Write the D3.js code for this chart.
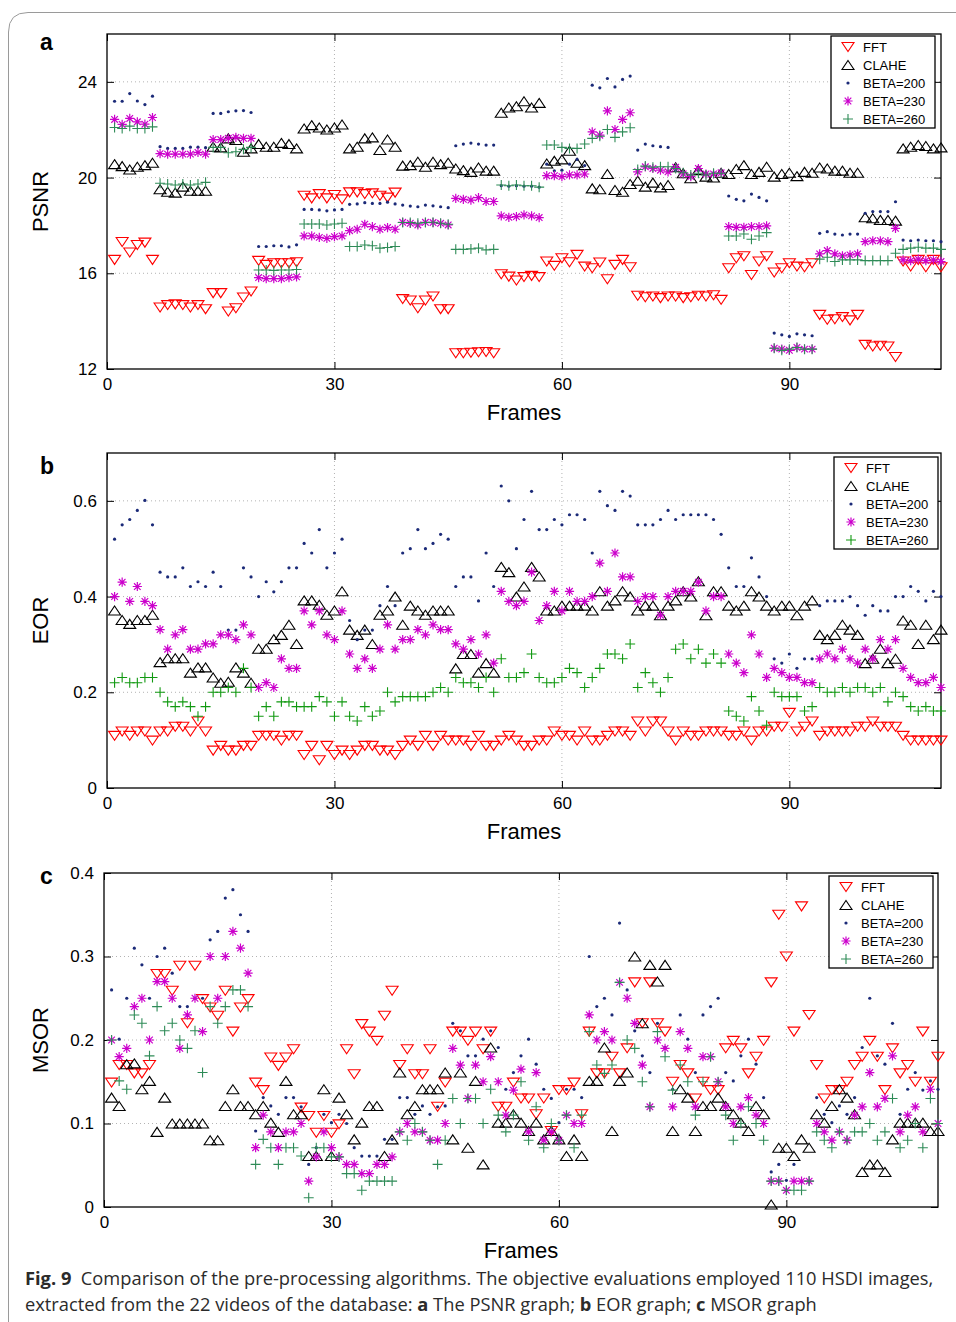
<!DOCTYPE html>
<html>
<head>
<meta charset="utf-8">
<script src="https://cdn.jsdelivr.net/npm/d3@7"></script>
<style>
body { margin: 0; background: #fff; }
text { font-family: "Liberation Sans", Arial, sans-serif; }
</style>
</head>
<body>
<script>
// frames 1..110
var frames = d3.range(1, 111);
var seriesNames = ["FFT", "CLAHE", "BETA=200", "BETA=230", "BETA=260"];
var xTicks = [0, 30, 60, 90];

// (a) PSNR
var psnrTicks = [12, 16, 20, 24];
var psnrFFT = [16.56,17.31,16.87,17.18,17.28,16.56, 14.57,14.67,14.70,14.67,14.57,14.67,14.50, 15.17,15.17,14.40,14.54,14.99,15.24, 16.52,16.35,16.42,16.42,16.42,16.46, 19.24,19.13,19.31,19.13,19.27,19.09, 19.38,19.38,19.31,19.34,19.24,19.16,19.37, 14.92,14.86,14.54,14.86,15.03,14.50,14.50, 12.66,12.66,12.68,12.70,12.71,12.66, 15.96,15.86,15.70,15.84,15.89,15.84, 16.49,16.31,16.63,16.46,16.77,16.28,16.21,16.45,15.75,16.35,16.56,16.25, 15.06,15.00,15.03,14.96,15.03,15.03,14.96,15.00,15.06,15.03,15.08,14.89, 16.21,16.63,16.71,15.93,16.49,16.71, 16.03,16.21,16.42,16.28,16.25,16.42, 14.26,14.06,14.08,14.17,14.03,14.26, 13.01,12.94,12.97,12.94,12.50, 16.49,16.28,16.56,16.25,16.56,16.25];
var psnrCLAHE = [20.56,20.48,20.34,20.45,20.52,20.62, 19.51,19.41,19.37,19.62,19.45,19.45,19.45, 21.29,21.26,21.64,21.57,21.08,21.22, 21.40,21.29,21.29,21.45,21.40,21.22, 22.05,22.19,22.09,22.01,22.09,22.22, 21.22,21.29,21.64,21.68,21.15,21.59,21.29, 20.50,20.52,20.66,20.45,20.66,20.56,20.62, 20.38,20.31,20.24,20.42,20.29,20.29, 22.71,22.93,22.98,23.19,22.93,23.12, 20.59,20.70,20.76,21.12,20.62,20.52, 19.55,19.51,20.15,19.48,19.41,19.73,19.87,19.62,19.79,19.59,19.69, 20.43,20.18,19.97,20.31,20.04,20.00,20.20,20.15,20.36, 20.52,20.15,20.24,20.45, 20.04,20.15,20.20,20.06,20.24,20.20,20.42,20.38,20.29,20.29,20.20,20.20, 18.34,18.30,18.23,18.23,18.20, 21.22,21.29,21.36,21.32,21.22,21.26];
var psnrB200 = [23.19,23.19,23.51,23.20,23.05,23.40, 21.29,21.22,21.22,21.22,21.27,21.27,21.25, 22.68,22.68,22.75,22.79,22.80,22.72, 17.12,17.12,17.15,17.15,17.10,17.19, 18.67,18.67,18.65,18.61,18.65,18.67, 18.88,18.90,18.95,18.92,18.92,18.97,18.90, 18.85,18.81,18.78,18.85,18.82,18.78,18.74, 21.33,21.40,21.44,21.40,21.36,21.36, 19.66,19.64,19.66,19.64,19.64,19.60, 20.56,20.28,20.31,20.56,20.76,20.50, 23.86,23.75,24.14,23.79,24.10,24.24, 21.15,21.40,21.33,21.29,21.26, 20.30,20.20,20.10,20.30,20.20,20.20,20.20, 19.23,19.09,19.03,19.31,19.17,19.03, 13.50,13.43,13.36,13.47,13.43,13.39, 17.67,17.74,17.64,17.60,17.64,17.64, 18.51,18.58,18.58,18.58,18.99, 17.39,17.36,17.39,17.36,17.36,17.32];
var psnrB230 = [22.43,22.22,22.47,22.33,22.23,22.51, 21.00,20.98,20.98,20.98,20.98,21.05,20.98, 21.59,21.59,21.64,21.68,21.64,21.64, 15.82,15.78,15.78,15.78,15.82,15.85, 17.56,17.56,17.50,17.46,17.53,17.56, 17.78,17.84,18.05,17.95,17.84,17.91,17.84, 18.13,18.09,18.02,18.13,18.12,18.09,18.02, 19.13,19.09,19.06,19.16,19.00,19.00, 18.40,18.34,18.37,18.44,18.40,18.33, 20.08,20.08,20.04,20.11,20.11,20.15, 21.91,21.77,22.79,22.01,22.43,22.71, 20.24,20.45,20.38,20.31,20.24,20.43,20.15,20.04,20.38,20.15,20.15,20.20, 17.95,17.92,17.92,17.95,17.95,17.98, 12.87,12.83,12.78,12.90,12.83,12.83, 16.81,16.95,16.81,16.73,16.77,16.81, 17.32,17.36,17.36,17.32,17.88, 16.56,16.53,16.59,16.53,16.56,16.49];
var psnrB260 = [22.09,22.05,22.15,22.05,22.05,22.12, 19.76,19.73,19.69,19.73,19.69,19.73,19.80, 21.26,21.26,21.04,21.08,21.18,21.26, 16.14,16.14,16.12,16.14,16.14,16.16, 18.06,18.06,18.06,18.02,18.06,18.09, 17.12,17.12,17.18,17.15,17.05,17.08,17.12, 18.12,18.12,18.09,18.12,18.13,18.09,18.05, 17.00,17.00,17.02,17.05,16.98,17.00, 19.69,19.66,19.69,19.66,19.66,19.60, 21.36,21.36,21.26,21.22,21.22,21.40, 21.64,21.73,22.01,21.68,21.91,22.08, 20.34,20.48,20.43,20.45,20.45,20.38,20.20,20.11,20.18,20.11,20.18,20.18, 17.56,17.56,17.64,17.42,17.56,17.70, 12.87,12.78,12.83,12.90,12.83,12.83, 16.59,16.67,16.49,16.56,16.56,16.56, 16.53,16.53,16.53,16.53,16.84, 17.00,17.05,17.09,17.05,17.05,17.00];

// (b) EOR
var eorTicks = [0, 0.2, 0.4, 0.6];
var eorFFT = [.109,.118,.109,.118,.118,.099, .118,.118,.128,.128,.118,.139,.118, .078,.088,.078,.078,.088,.088, .109,.109,.109,.099,.109,.109, .069,.088,.058,.088,.069,.078, .069,.078,.088,.088,.078,.078,.069, .088,.099,.088,.109,.088,.109,.099, .099,.099,.088,.109,.088,.088, .099,.109,.099,.088,.088,.099, .099,.118,.109,.109,.099,.118, .099,.099,.109,.118,.118,.109, .139,.118,.139,.139,.118,.099, .118,.109,.109,.118,.118,.118,.109,.109, .118,.099,.118,.118, .128,.128,.157,.118,.128,.139, .109,.118,.118,.118,.118,.128,.128,.139,.128,.128,.128, .109,.099,.099,.099,.099,.099];
var eorCLAHE = [.371,.351,.343,.351,.351,.362, .263,.271,.271,.271, .241,.252,.252,.231,.220,.222, .252,.241,.220, .291,.291,.311,.320,.341,.301, .392,.392,.383,.362,.371,.411, .331,.320,.331,.301, .362,.371,.400, .341,.381,.371,.362,.371,.371,.371, .250,.280,.280,.241,.261,.241, .462,.451,.400,.421,.462,.442, .371,.371,.381,.381,.381,.381,.371, .411,.381,.392,.411,.400, .371,.381,.381,.361,.381,.392,.411,.400,.432,.361, .411,.411,.381,.371, .381,.411,.400,.381, .371,.381,.381,.361,.381,.392, .320,.311,.320,.341,.331,.320, .261,.270,.291,.261,.270, .350,.341,.301,.341,.311,.331];
var eorB200 = [.520,.550,.561,.580,.601,.550, .451,.441,.441,.460,.421,.431,.421,.451,.421, .330,.330,.460,.441,.400,.431,.410,.431,.460,.460, .511,.491,.540,.460,.491,.520, .350,.310,.330,.330,.381,.421,.381, .491,.500,.540,.500,.511,.530,.520, .421,.441,.441,.391,.491,.421, .631,.600,.500,.561,.620,.540, .540,.561,.550,.571,.571,.561, .491,.620,.590,.580,.620,.610, .550,.550,.550,.561,.580,.561,.571,.571,.571,.571,.561,.530,.460,.421, .421,.481,.441,.400, .270,.261,.280,.250,.270,.270, .381,.391,.391,.391,.400,.381,.361,.381,.370,.370,.400, .400,.421,.411,.391,.411,.400];
var eorB230 = [.400,.430,.390,.421,.390,.381, .331,.290,.320,.331,.290,.290,.301,.301,.320,.320,.310,.341,.320, .210,.220,.210,.270,.250,.250, .370,.341,.370,.320,.310,.370, .280,.250,.270,.250,.290,.341,.290, .310,.310,.331,.320,.341,.331,.331, .301,.290,.310,.280,.320,.261, .411,.390,.381,.390,.451,.350, .381,.411,.370,.411,.390,.390,.400, .470,.411,.491,.441,.441, .390,.400,.400,.361,.400,.411,.411,.411,.430,.370,.400,.400,.280,.261, .241,.320,.280,.231, .250,.241,.231,.231,.220,.220, .270,.280,.270,.290,.270,.261, .290,.270,.310,.290,.310, .250,.231,.220,.220,.231,.210];
var eorB260 = [.220,.231,.220,.220,.231,.231, .200,.180,.170,.180,.170,.150,.170, .200,.200,.210,.200,.250,.210, .150,.170,.150,.180,.180,.170, .170,.170,.191,.180,.150,.180, .150,.140,.170,.150,.161,.200,.180, .191,.191,.191,.191,.200,.210,.200, .231,.220,.220,.210,.231,.200, .270,.231,.231,.241,.280,.231, .220,.220,.231,.250,.241,.210,.231, .250,.280,.280,.270,.301, .210,.241,.220,.200,.231, .290,.301,.270,.290,.261,.280,.261, .161,.150,.140,.191,.161,.131, .200,.191,.191,.191,.161,.170, .210,.200,.200,.210,.200,.210,.210,.200,.210,.180,.200, .191,.170,.161,.170,.161,.161];

// (c) MSOR
var msorTicks = [0, 0.1, 0.2, 0.3, 0.4];
var msorFFT = [.149,.170,.170,.160,.160,.170, .279,.279,.259,.289,.220,.289, .249,.239,.229,.259,.210,.239,.249, .149,.140,.179,.169,.179,.189, .119,.109,.089,.109,.089,.099, .189,.159,.219,.210,.199,.229,.259, .170,.189,.159,.159,.189,.120,.149, .210,.210,.199,.210,.189,.210, .120,.120,.149,.130,.130,.111, .130,.091,.140,.140,.149,.111, .210,.160,.160,.180,.160,.190, .269,.220,.269,.220,.210, .150,.170,.160,.130,.150,.140,.140,.190,.199, .190,.160,.180,.199, .269,.350,.300,.210,.360,.230, .170,.130,.140,.140,.150,.170,.180,.199,.180, .140,.190,.160,.170,.150,.210,.150,.180];
var msorCLAHE = [.131,.121,.171,.172,.141,.151, .090,.131,.100,.100,.100,.100,.100,.080,.080, .121,.141,.121,.121, .111,.121,.101,.090,.151,.111, .111,.061,.061,.141,.061,.131, .111,.081,.101,.121,.121,.061,.081, .161,.111,.121,.141,.141,.141,.161, .081,.161,.071,.151,.051,.191, .101,.101,.111,.101,.091,.101, .081,.091,.081,.061,.081,.061, .151,.151,.191,.091,.151,.161, .300,.220,.290,.270,.290, .091,.141,.131,.091,.121,.121,.131,.121,.111, .101,.091,.121,.111, .003,.071,.071,.061,.081,.071, .111,.101,.121,.141,.131,.111, .042,.051,.051,.042,.081, .101,.101,.101,.101,.091,.091];
var msorB200 = [.260,.201,.250,.310,.290,.250,.300,.310,.280, .240,.240,.250,.250,.320,.330,.370,.380,.350,.330, .091,.131,.121,.111,.131,.131, .120,.051,.071,.111,.101,.111, .100,.071,.061,.061,.061,.081,.081, .131,.131,.111,.121,.111,.120,.121, .220,.211,.181,.181,.201,.211, .191,.141,.161,.181,.201,.171, .141,.130,.101,.141,.141,.131, .300,.240,.250,.230,.340,.260, .211,.181,.161,.220,.191, .141,.230,.201,.161,.230,.240,.250,.161,.151, .181,.201,.171,.131, .042,.051,.032,.051,.030,.030, .131,.111,.101,.121,.111,.131, .191,.250,.181,.171,.220, .111,.141,.161,.140,.151,.141];
var msorB230 = [.200,.180,.190,.240,.250,.200,.270,.270,.250,.190,.230,.250,.210,.300,.250,.300,.330,.310,.280, .071,.110,.090,.071,.090,.090, .100,.031,.060,.090,.071,.060, .051,.051,.040,.040,.051,.051,.060, .090,.100,.090,.090,.080,.080,.100, .190,.170,.130,.170,.150,.180, .150,.110,.140,.165,.090,.161, .080,.090,.080,.110,.100,.100, .230,.200,.210,.200,.269,.250, .220,.170,.120,.200,.190, .120,.210,.190,.120,.180,.180,.150,.120,.100, .120,.131,.110,.100, .031,.031,.020,.031,.031,.031, .100,.090,.080,.090,.080,.110, .120,.161,.120,.130,.181, .090,.110,.120,.090,.141,.100];
var msorB260 = [.200,.151,.141,.230,.220,.181,.240,.211,.220,.200,.190,.211,.161,.240,.220,.240,.260,.260,.240, .051,.081,.071,.051,.071,.071, .061,.011,.071,.071,.060,.060, .040,.040,.020,.031,.031,.031,.031, .090,.080,.100,.090,.080,.051,.080, .130,.100,.130,.130,.100,.141, .110,.090,.110,.150,.080,.120, .071,.100,.080,.110,.071,.110, .210,.170,.160,.170,.269,.200, .190,.150,.120,.210,.180, .140,.170,.150,.110,.150,.180,.150,.110,.080, .100,.120,.100,.080, .031,.031,.020,.020,.020,.031, .090,.080,.071,.090,.080,.090,.090,.100,.080,.090,.130, .071,.080,.100,.071,.130,.100];

var W = 956, H = 1322;
var svg = d3.select("body").append("svg")
    .attr("width", W)
    .attr("height", H);

// page frame with rounded corner
svg.append("path")
    .attr("d", "M8.5," + H + " V32 Q8.5,12.5 28,12.5 H" + W)
    .attr("fill", "none")
    .attr("stroke", "#9a9a9a")
    .attr("stroke-width", 1);

var markerPaths = {
    down: "M-6,-4.5L6,-4.5L0,4.5Z",
    up: "M0,-4.5L6,4.5L-6,4.5Z",
    star: "M-4.6,0H4.6M0,-4.6V4.6M-3.3,-3.3L3.3,3.3M-3.3,3.3L3.3,-3.3",
    plus: "M-5,0H5M0,-5V5"
};

function drawMarker(g, kind, color) {
    if (kind == "dot") {
        return g.append("circle").attr("r", 1.6).attr("fill", color);
    }
    return g.append("path")
        .attr("d", markerPaths[kind])
        .attr("fill", "none")
        .attr("stroke", color)
        .attr("stroke-width", kind == "star" ? 1.2 : 1.1);
}

function drawPanel(p) {
    var x = d3.scaleLinear().domain([0, 110]).range([p.left, p.right]);
    var y = d3.scaleLinear().domain(p.yDomain).range([p.bottom, p.top]);
    var g = svg.append("g");

    // dotted grid
    g.selectAll(".gx").data(xTicks.slice(1)).enter().append("line")
        .attr("x1", d => x(d)).attr("x2", d => x(d))
        .attr("y1", p.top).attr("y2", p.bottom)
        .attr("stroke", "#a0a0a0").attr("stroke-width", 0.8)
        .attr("stroke-dasharray", "1,3");
    g.selectAll(".gy").data(p.yTicks.filter(d => d > p.yDomain[0] && d < p.yDomain[1])).enter().append("line")
        .attr("y1", d => y(d)).attr("y2", d => y(d))
        .attr("x1", p.left).attr("x2", p.right)
        .attr("stroke", "#a0a0a0").attr("stroke-width", 0.8)
        .attr("stroke-dasharray", "1,3");

    // axes with inward ticks
    var ax = [
        [d3.axisBottom(x).tickValues(xTicks).tickSize(-7).tickPadding(9).tickFormat(d3.format("d")), "translate(0," + p.bottom + ")"],
        [d3.axisTop(x).tickValues(xTicks).tickSize(-7).tickFormat(""), "translate(0," + p.top + ")"],
        [d3.axisLeft(y).tickValues(p.yTicks).tickSize(-7).tickPadding(10).tickFormat(p.fmt), "translate(" + p.left + ",0)"],
        [d3.axisRight(y).tickValues(p.yTicks).tickSize(-7).tickFormat(""), "translate(" + p.right + ",0)"]
    ];
    ax.forEach(function(a) {
        var ga = g.append("g").attr("transform", a[1]).call(a[0]);
        ga.select(".domain").remove();
        ga.selectAll(".tick line").attr("stroke", "#000").attr("stroke-width", 1);
        ga.selectAll("text")
            .style("font-family", '"Liberation Sans", Arial, sans-serif')
            .style("font-size", "17px")
            .attr("fill", "#000");
    });

    g.append("rect")
        .attr("x", p.left).attr("y", p.top)
        .attr("width", p.right - p.left).attr("height", p.bottom - p.top)
        .attr("fill", "none").attr("stroke", "#000").attr("stroke-width", 1.3);

    // markers, legend order
    var styles = [
        {kind: "down", color: "#ff0000"},
        {kind: "up", color: "#000000"},
        {kind: "dot", color: "#1b2a78"},
        {kind: "star", color: "#cc00cc"},
        {kind: "plus", color: p.green}
    ];
    p.series.forEach(function(vals, i) {
        var s = styles[i];
        var sg = g.append("g");
        frames.forEach(function(f, k) {
            drawMarker(sg, s.kind, s.color)
                .attr("transform", "translate(" + x(f) + "," + y(vals[k]) + ")");
        });
    });

    // legend
    var lg = g.append("g").attr("transform", "translate(" + p.legend[0] + "," + p.legend[1] + ")");
    lg.append("rect").attr("width", 104).attr("height", 92)
        .attr("fill", "#fff").attr("stroke", "#000").attr("stroke-width", 1.3);
    seriesNames.forEach(function(name, i) {
        var ly = 11 + i * 18;
        drawMarker(lg, styles[i].kind, styles[i].color)
            .attr("transform", "translate(17," + ly + ")");
        lg.append("text").attr("x", 32).attr("y", ly + 5)
            .style("font-size", "13px").text(name);
    });

    // labels
    svg.append("text")
        .attr("x", 40).attr("y", p.keyY)
        .style("font-size", "23px").style("font-weight", "bold")
        .text(p.key);
    svg.append("text")
        .attr("transform", "translate(48," + ((p.top + p.bottom) / 2) + ") rotate(-90)")
        .attr("text-anchor", "middle")
        .style("font-size", "22px")
        .text(p.yLabel);
    svg.append("text")
        .attr("x", (p.left + p.right) / 2).attr("y", p.bottom + 51)
        .attr("text-anchor", "middle")
        .style("font-size", "22px")
        .text("Frames");
}

var panels = [
    {key: "a", keyY: 50, top: 34, bottom: 369, left: 107, right: 941, yDomain: [12, 26], yTicks: psnrTicks,
     fmt: d3.format("d"), yLabel: "PSNR", legend: [831, 36], green: "#2e8b57",
     series: [psnrFFT, psnrCLAHE, psnrB200, psnrB230, psnrB260]},
    {key: "b", keyY: 474, top: 453, bottom: 788, left: 107, right: 941, yDomain: [0, 0.7], yTicks: eorTicks,
     fmt: d => d == 0 ? "0" : d3.format(".1f")(d), yLabel: "EOR", legend: [834, 457], green: "#119911",
     series: [eorFFT, eorCLAHE, eorB200, eorB230, eorB260]},
    {key: "c", keyY: 884, top: 873, bottom: 1207, left: 104, right: 938, yDomain: [0, 0.4], yTicks: msorTicks,
     fmt: d => d == 0 ? "0" : d3.format(".1f")(d), yLabel: "MSOR", legend: [829, 876], green: "#2e8b57",
     series: [msorFFT, msorCLAHE, msorB200, msorB230, msorB260]}
];
panels.forEach(drawPanel);

// caption
var cap = svg.append("g")
    .style("font-size", "18.3px")
    .attr("fill", "#2b2b2b");
var l1 = cap.append("text").attr("x", 25).attr("y", 1285)
    .style("font-family", '"Open Sans", "Noto Sans", sans-serif');
l1.append("tspan").style("font-weight", "bold").text("Fig. 9");
l1.append("tspan").text("\u00a0\u00a0Comparison of the pre-processing algorithms. The objective evaluations employed 110 HSDI images,");
var l2 = cap.append("text").attr("x", 25).attr("y", 1311)
    .style("font-family", '"Open Sans", "Noto Sans", sans-serif');
[["extracted from the 22 videos of the database: ", false], ["a", true], [" The PSNR graph; ", false],
 ["b", true], [" EOR graph; ", false], ["c", true], [" MSOR graph", false]].forEach(function(t) {
    l2.append("tspan").style("font-weight", t[1] ? "bold" : "normal").text(t[0]);
});
</script>
</body>
</html>
